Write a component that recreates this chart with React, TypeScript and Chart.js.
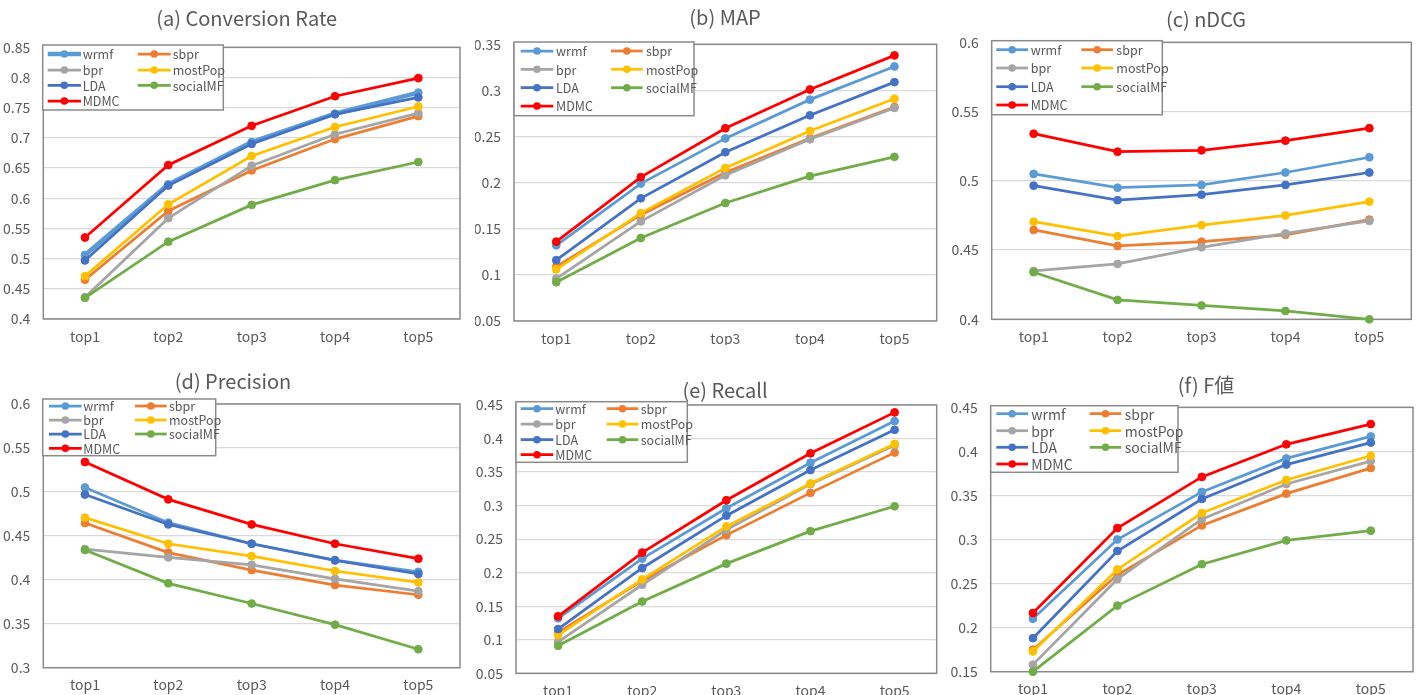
import React, { useEffect, useRef } from "react";
import { Chart, registerables } from "chart.js";

Chart.register(...registerables);

const FONT = '"Noto Sans CJK SC", "Noto Sans", sans-serif';

const categories = ["top1", "top2", "top3", "top4", "top5"];
const seriesNames = ["wrmf", "sbpr", "bpr", "mostPop", "LDA", "socialMF", "MDMC"];
const seriesColors = ["#5B9BD5", "#ED7D31", "#A5A5A5", "#FFC000", "#4472C4", "#70AD47", "#FF0000"];

// (a) Conversion Rate
const crWrmf = [0.506, 0.623, 0.693, 0.74, 0.775];
const crSbpr = [0.465, 0.579, 0.646, 0.698, 0.736];
const crBpr = [0.436, 0.567, 0.654, 0.706, 0.741];
const crMostPop = [0.471, 0.59, 0.67, 0.718, 0.752];
const crLDA = [0.497, 0.621, 0.69, 0.739, 0.767];
const crSocialMF = [0.435, 0.528, 0.589, 0.63, 0.66];
const crMDMC = [0.535, 0.655, 0.72, 0.769, 0.799];

// (b) MAP
const mapWrmf = [0.132, 0.199, 0.248, 0.29, 0.326];
const mapSbpr = [0.109, 0.165, 0.211, 0.248, 0.282];
const mapBpr = [0.096, 0.158, 0.208, 0.247, 0.281];
const mapMostPop = [0.106, 0.167, 0.216, 0.256, 0.291];
const mapLDA = [0.116, 0.183, 0.233, 0.273, 0.309];
const mapSocialMF = [0.092, 0.14, 0.178, 0.207, 0.228];
const mapMDMC = [0.136, 0.206, 0.259, 0.301, 0.338];

// (c) nDCG
const ndcgWrmf = [0.505, 0.495, 0.497, 0.506, 0.517];
const ndcgSbpr = [0.4645, 0.453, 0.456, 0.461, 0.472];
const ndcgBpr = [0.435, 0.44, 0.452, 0.462, 0.471];
const ndcgMostPop = [0.4705, 0.46, 0.468, 0.475, 0.485];
const ndcgLDA = [0.4965, 0.486, 0.49, 0.497, 0.506];
const ndcgSocialMF = [0.434, 0.414, 0.41, 0.406, 0.4];
const ndcgMDMC = [0.534, 0.521, 0.522, 0.529, 0.538];

// (d) Precision
const precWrmf = [0.505, 0.465, 0.441, 0.4225, 0.409];
const precSbpr = [0.4646, 0.431, 0.411, 0.394, 0.383];
const precBpr = [0.435, 0.4255, 0.417, 0.401, 0.387];
const precMostPop = [0.4707, 0.441, 0.427, 0.41, 0.397];
const precLDA = [0.497, 0.463, 0.441, 0.422, 0.4066];
const precSocialMF = [0.434, 0.396, 0.373, 0.349, 0.321];
const precMDMC = [0.534, 0.4915, 0.463, 0.441, 0.424];

// (e) Recall
const recWrmf = [0.132, 0.221, 0.296, 0.364, 0.426];
const recSbpr = [0.111, 0.188, 0.256, 0.319, 0.379];
const recBpr = [0.097, 0.182, 0.264, 0.332, 0.39];
const recMostPop = [0.107, 0.19, 0.269, 0.333, 0.392];
const recLDA = [0.116, 0.207, 0.285, 0.353, 0.413];
const recSocialMF = [0.091, 0.157, 0.2135, 0.262, 0.299];
const recMDMC = [0.135, 0.23, 0.308, 0.378, 0.439];

// (f) F値
const fWrmf = [0.21, 0.3, 0.354, 0.392, 0.417];
const fSbpr = [0.175, 0.26, 0.316, 0.352, 0.381];
const fBpr = [0.158, 0.255, 0.323, 0.363, 0.389];
const fMostPop = [0.173, 0.266, 0.33, 0.3675, 0.395];
const fLDA = [0.188, 0.287, 0.346, 0.385, 0.41];
const fSocialMF = [0.15, 0.225, 0.272, 0.299, 0.31];
const fMDMC = [0.2166, 0.313, 0.371, 0.408, 0.431];

const titles = ["(a) Conversion Rate", "(b) MAP", "(c) nDCG", "(d) Precision", "(e) Recall", "(f) F値"];
const yRanges = [
  [0.4, 0.85],
  [0.05, 0.35],
  [0.4, 0.6],
  [0.3, 0.6],
  [0.05, 0.45],
  [0.15, 0.45],
];
const panelData = [
  [crWrmf, crSbpr, crBpr, crMostPop, crLDA, crSocialMF, crMDMC],
  [mapWrmf, mapSbpr, mapBpr, mapMostPop, mapLDA, mapSocialMF, mapMDMC],
  [ndcgWrmf, ndcgSbpr, ndcgBpr, ndcgMostPop, ndcgLDA, ndcgSocialMF, ndcgMDMC],
  [precWrmf, precSbpr, precBpr, precMostPop, precLDA, precSocialMF, precMDMC],
  [recWrmf, recSbpr, recBpr, recMostPop, recLDA, recSocialMF, recMDMC],
  [fWrmf, fSbpr, fBpr, fMostPop, fLDA, fSocialMF, fMDMC],
];

// Layout (page pixel geometry)
type Layout = {
  x0: number; y0: number; w: number; h: number;
  L: number; T: number; R: number; B: number;
  tx: number; ty: number;
  box: number[]; rows: number[]; c1: number[]; t1: number; c2: number[]; t2: number; lfs: number;
  thickFirst: boolean;
};

const layouts: Layout[] = [
  { x0: 0, y0: 0, w: 475, h: 345, L: 43.3, T: 47.3, R: 460, B: 319, tx: 246.7, ty: 18.3,
    box: [42.7, 45, 223.3, 110], rows: [54, 70, 85.3, 101], c1: [47.7, 81], t1: 82.7, c2: [137.7, 170.7], t2: 172.7, lfs: 12.5, thickFirst: true },
  { x0: 475, y0: 0, w: 473, h: 345, L: 514, T: 44.3, R: 936.7, B: 321, tx: 725, ty: 17.7,
    box: [514, 42, 694, 115.7], rows: [51, 69.3, 87.7, 106], c1: [520.7, 553.3], t1: 556, c2: [611, 642.7], t2: 646, lfs: 12.5, thickFirst: false },
  { x0: 948, y0: 0, w: 475, h: 345, L: 991.7, T: 42.3, R: 1411.3, B: 319.3, tx: 1206, ty: 19.3,
    box: [991.7, 40.7, 1162.3, 114.7], rows: [49.7, 68, 86.7, 105], c1: [996.3, 1028], t1: 1030.7, c2: [1081.3, 1113], t2: 1116.3, lfs: 12.5, thickFirst: false },
  { x0: 0, y0: 345, w: 475, h: 350, L: 43.3, T: 404, R: 460, B: 667.7, tx: 233, ty: 381,
    box: [42.7, 399, 215.7, 455.7], rows: [406, 420, 434, 448.3], c1: [49, 81.7], t1: 83.3, c2: [135, 166.7], t2: 169, lfs: 12.5, thickFirst: false },
  { x0: 475, y0: 345, w: 473, h: 350, L: 516, T: 405, R: 936.7, B: 673.3, tx: 725, ty: 390,
    box: [516, 401.7, 687.3, 462.3], rows: [408.7, 424, 439.7, 454.7], c1: [520.7, 553.3], t1: 555.3, c2: [606.7, 638.3], t2: 640.7, lfs: 12.5, thickFirst: false },
  { x0: 948, y0: 345, w: 475, h: 350, L: 990.7, T: 407.3, R: 1413, B: 671.7, tx: 1206, ty: 385.7,
    box: [990.7, 405.7, 1178, 472.3], rows: [413.7, 430.7, 447.3, 464], c1: [996.3, 1028], t1: 1031.3, c2: [1089.7, 1121.3], t2: 1124.7, lfs: 14, thickFirst: false },
];

const TEXT = "#595959";
const TITLE_FS = 20;
const TICK_FS = 14;

function makeDecor(lay: Layout) {
  const shift = lay.tx - (lay.x0 + lay.R) / 2;
  return {
    id: "panelDecor",
    afterLayout(chart: any) {
      const t = chart.titleBlock;
      if (t) {
        t.left += shift;
        t.right += shift;
      }
    },
    beforeDatasetsDraw(chart: any) {
      const { ctx, chartArea: a } = chart;
      ctx.save();
      ctx.strokeStyle = "#8A8A8A";
      ctx.lineWidth = 1.5;
      ctx.strokeRect(a.left, a.top, a.right - a.left, a.bottom - a.top);
      ctx.restore();
    },
    afterDatasetsDraw(chart: any) {
      const ctx = chart.ctx;
      const ox = lay.x0, oy = lay.y0;
      const [bx0, by0, bx1, by1] = lay.box;
      ctx.save();
      ctx.fillStyle = "#FFFFFF";
      ctx.fillRect(bx0 - ox, by0 - oy, bx1 - bx0, by1 - by0);
      ctx.strokeStyle = "#8A8A8A";
      ctx.lineWidth = 1.5;
      ctx.strokeRect(bx0 - ox, by0 - oy, bx1 - bx0, by1 - by0);
      ctx.font = `${lay.lfs}px ${FONT}`;
      ctx.textBaseline = "middle";
      ctx.textAlign = "left";
      seriesNames.forEach((name, i) => {
        const row = Math.floor(i / 2);
        const col = i % 2;
        const y = lay.rows[row] - oy;
        const seg = col === 0 ? lay.c1 : lay.c2;
        const tx = col === 0 ? lay.t1 : lay.t2;
        const color = seriesColors[i];
        ctx.strokeStyle = color;
        ctx.lineWidth = lay.thickFirst && i === 0 ? 4.5 : 2.75;
        ctx.beginPath();
        ctx.moveTo(seg[0] - ox, y);
        ctx.lineTo(seg[1] - ox, y);
        ctx.stroke();
        ctx.fillStyle = color;
        ctx.beginPath();
        ctx.arc((seg[0] + seg[1]) / 2 - ox, y, 3.8, 0, Math.PI * 2);
        ctx.fill();
        ctx.fillStyle = TEXT;
        ctx.fillText(name, tx - ox, y + 0.5);
      });
      ctx.restore();
    },
  };
}

function Panel({ index }: { index: number }) {
  const ref = useRef<HTMLCanvasElement>(null);
  const lay = layouts[index];
  useEffect(() => {
    const canvas = ref.current;
    if (!canvas) return;
    const lh = TITLE_FS * 1.2;
    const pt = lay.ty - lay.y0 - lh / 2;
    const pb = lay.T - lay.y0 - pt - lh;
    const yW = lay.L - lay.x0;
    const xH = lay.y0 + lay.h - lay.B;
    const padR = lay.x0 + lay.w - lay.R;
    const [ymin, ymax] = yRanges[index];
    const datasets = panelData[index].map((vals, i) => ({
      label: seriesNames[i],
      data: vals,
      borderColor: seriesColors[i],
      backgroundColor: seriesColors[i],
      pointBackgroundColor: seriesColors[i],
      pointBorderColor: seriesColors[i],
      borderWidth: lay.thickFirst && i === 0 ? 4.5 : 2.75,
      pointRadius: 3.9,
      pointBorderWidth: 1,
      tension: 0,
      clip: false as any,
      order: seriesNames.length - i,
    }));
    const chart = new Chart(canvas, {
      type: "line",
      data: { labels: categories, datasets },
      options: {
        responsive: false,
        animation: false,
        maintainAspectRatio: false,
        layout: { padding: { left: 0, right: padR, top: 0, bottom: 0 } },
        plugins: {
          legend: { display: false },
          tooltip: { enabled: false },
          title: {
            display: true,
            text: titles[index],
            color: TEXT,
            font: { family: FONT, size: TITLE_FS, weight: "normal", lineHeight: 1.2 },
            padding: { top: pt, bottom: pb },
          },
        },
        scales: {
          x: {
            offset: true,
            grid: { display: false, drawTicks: false },
            border: { display: false },
            ticks: { color: TEXT, font: { family: FONT, size: TICK_FS }, padding: 9, maxRotation: 0 },
            afterFit: (s: any) => { s.height = xH; },
          },
          y: {
            min: ymin,
            max: ymax,
            grid: { color: "#D9D9D9", lineWidth: 1.2, drawTicks: false },
            border: { display: false },
            ticks: {
              stepSize: 0.05,
              color: TEXT,
              font: { family: FONT, size: TICK_FS },
              padding: 13,
              callback: (v: any) => String(parseFloat(Number(v).toFixed(2))),
            },
            afterFit: (s: any) => { s.width = yW; },
          },
        },
      },
      plugins: [makeDecor(lay)],
    });
    return () => chart.destroy();
  }, []);
  return (
    <canvas
      ref={ref}
      width={lay.w}
      height={lay.h}
      style={{ position: "absolute", left: lay.x0, top: lay.y0, width: lay.w, height: lay.h }}
    />
  );
}

export default function App() {
  return (
    <div style={{ position: "absolute", left: 0, top: 0, width: 1423, height: 695, background: "#FFFFFF", overflow: "hidden" }}>
      {layouts.map((_, i) => (
        <Panel key={i} index={i} />
      ))}
    </div>
  );
}
